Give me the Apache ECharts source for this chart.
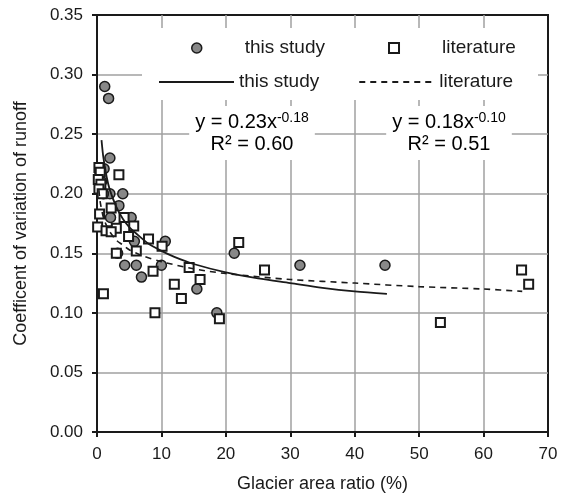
<!DOCTYPE html>
<html><head><meta charset="utf-8">
<script src="https://cdn.jsdelivr.net/npm/echarts@6/dist/echarts.min.js"></script>
<style>html,body{margin:0;padding:0;background:#fff}#c{width:570px;height:498px}</style>
</head><body><div id="c"></div>
<script>
// ---- data ----
const xRange = [0, 70];           // Glacier area ratio (%)
const xStep = 10;
const yRange = [0, 0.35];         // Coefficient of variation
const yStep = 0.05;

const studyX = [0.4, 0.7, 1.1, 1.2, 1.8, 2.0, 2.0, 4.0, 3.4, 2.1, 5.3, 5.8, 10.6, 3.2, 4.3, 6.1, 10.0, 6.9, 15.5, 18.6, 21.3, 31.5, 44.7, 0.5, 1.0];
const studyY = [0.215, 0.21, 0.221, 0.29, 0.28, 0.23, 0.20, 0.20, 0.19, 0.18, 0.18, 0.16, 0.16, 0.15, 0.14, 0.14, 0.14, 0.13, 0.12, 0.10, 0.15, 0.14, 0.14, 0.205, 0.20];

const litX = [0.3, 0.5, 0.2, 0.6, 0.3, 0.8, 0.4, 0.1, 1.4, 3.4, 2.2, 4.2, 5.7, 3.0, 2.2, 4.9, 8.0, 10.1, 6.1, 3.0, 8.7, 14.3, 16.0, 12.0, 13.1, 1.0, 9.0, 22.0, 19.0, 26.0, 53.3, 65.9, 67.0];
const litY = [0.222, 0.218, 0.212, 0.208, 0.204, 0.200, 0.183, 0.172, 0.169, 0.216, 0.188, 0.180, 0.173, 0.171, 0.168, 0.164, 0.162, 0.156, 0.152, 0.150, 0.135, 0.138, 0.128, 0.124, 0.112, 0.116, 0.100, 0.159, 0.095, 0.136, 0.092, 0.136, 0.124];

// fitted curves as drawn
const studyFitX = [0.7, 1, 1.5, 2, 3, 4, 5, 6, 8, 10, 12, 15, 20, 25, 30, 35, 40, 45];
const studyFitY = [0.245, 0.230, 0.214, 0.203, 0.189, 0.179, 0.172, 0.167, 0.158, 0.152, 0.147, 0.141, 0.134, 0.129, 0.125, 0.121, 0.118, 0.116];
const litFitX = [0.3, 0.5, 1, 1.5, 2, 3, 4, 5, 7, 10, 15, 20, 30, 40, 50, 60, 66];
const litFitY = [0.203, 0.193, 0.180, 0.173, 0.168, 0.161, 0.157, 0.153, 0.148, 0.143, 0.137, 0.133, 0.128, 0.125, 0.122, 0.120, 0.118];

const studyName = 'this study';
const litName = 'literature';
const eqStudy = ['y = 0.23x', '-0.18', 'R² = 0.60'];
const eqLit = ['y = 0.18x', '-0.10', 'R² = 0.51'];
const xName = 'Glacier area ratio (%)';
const yName = 'Coefficent of variation of runoff';

// ---- chart ----
const zip = (a, b) => a.map((v, i) => [v, b[i]]);
const FONT = "'Liberation Sans', Arial, sans-serif";
const INK = '#1a1a1a';
const GRIDC = '#a0a0a0';
const SQUARE = 'path://M0,0L10,0L10,10L0,10Z';

const chart = echarts.init(document.getElementById('c'));
const axisCommon = {
  axisLine: { show: true, onZero: false, lineStyle: { color: INK, width: 2 } },
  axisTick: { show: true, inside: false, length: 5, lineStyle: { color: INK, width: 2 } },
  splitLine: { show: true, showMinLine: false, showMaxLine: false, lineStyle: { color: GRIDC, width: 1.5 } },
  nameLocation: 'middle',
  nameTextStyle: { fontSize: 18, color: INK, fontFamily: FONT }
};
const legendText = { fontSize: 19, color: INK, fontFamily: FONT, lineHeight: 20 };
const eqRich = {
  m: { fontSize: 20, color: INK, fontFamily: FONT, lineHeight: 22 },
  s: { fontSize: 14, color: INK, fontFamily: FONT, lineHeight: 22, verticalAlign: 'top' }
};
const eqText = e => `{m|${e[0]}}{s|${e[1]}}\n{m|${e[2]}}`;
const hidden = { color: 'rgba(0,0,0,0)', borderWidth: 0 };

chart.setOption({
  animation: false,
  backgroundColor: '#fff',
  textStyle: { fontFamily: FONT },
  grid: { left: 97, right: 22, top: 15, bottom: 66, show: true, borderColor: INK, borderWidth: 2, backgroundColor: 'transparent' },
  xAxis: Object.assign({}, axisCommon, {
    type: 'value', min: xRange[0], max: xRange[1], interval: xStep,
    name: xName, nameGap: 43,
    axisLabel: { fontSize: 17, color: INK, margin: 14, fontFamily: FONT }
  }),
  yAxis: Object.assign({}, axisCommon, {
    type: 'value', min: yRange[0], max: yRange[1], interval: yStep,
    name: yName, nameGap: 67,
    axisLabel: { fontSize: 17, color: INK, margin: 14, fontFamily: FONT, formatter: v => v.toFixed(2) }
  }),
  legend: [
    {
      left: 191, top: 38, itemWidth: 10, itemHeight: 10, itemGap: 63, padding: 0,
      textStyle: Object.assign({}, legendText, { padding: [0, 0, 0, 38] }),
      data: [
        { name: studyName, icon: 'circle', itemStyle: { color: '#888', borderColor: INK, borderWidth: 1.5 } },
        { name: litName, icon: SQUARE, itemStyle: { color: '#fff', borderColor: INK, borderWidth: 2 } }
      ]
    },
    {
      left: 158, top: 72, itemWidth: 75, itemHeight: 9, itemGap: 39, padding: 0,
      textStyle: legendText,
      formatter: n => n.replace('\u200b', ''),
      data: [
        { name: studyName + '\u200b', itemStyle: hidden },
        { name: litName + '\u200b', itemStyle: hidden }
      ]
    }
  ],
  graphic: [
    { type: 'rect', z: 3, shape: { x: 142, y: 28, width: 396, height: 72 }, style: { fill: '#fff' } },
    { type: 'text', z: 5, x: 252, y: 133, style: { text: eqText(eqStudy), rich: eqRich, align: 'center', verticalAlign: 'middle', backgroundColor: '#fff', padding: [5, 6] } },
    { type: 'text', z: 5, x: 449, y: 133, style: { text: eqText(eqLit), rich: eqRich, align: 'center', verticalAlign: 'middle', backgroundColor: '#fff', padding: [5, 6] } }
  ],
  series: [
    { name: studyName, type: 'scatter', data: zip(studyX, studyY), symbol: 'circle', symbolSize: 10, z: 2,
      itemStyle: { color: '#888', borderColor: INK, borderWidth: 1.5, opacity: 1 } },
    { name: litName, type: 'scatter', data: zip(litX, litY), symbol: SQUARE, symbolSize: 9, z: 3,
      itemStyle: { color: '#fff', borderColor: INK, borderWidth: 2, opacity: 1 } },
    { name: studyName + '\u200b', type: 'line', data: zip(studyFitX, studyFitY), symbol: 'none', smooth: 0.3, z: 4,
      lineStyle: { color: INK, width: 1.8, type: 'solid' }, itemStyle: { color: INK } },
    { name: litName + '\u200b', type: 'line', data: zip(litFitX, litFitY), symbol: 'none', smooth: 0.3, z: 4,
      lineStyle: { color: INK, width: 1.6, type: [6, 5] }, itemStyle: { color: INK } }
  ]
});
</script>
</body></html>
